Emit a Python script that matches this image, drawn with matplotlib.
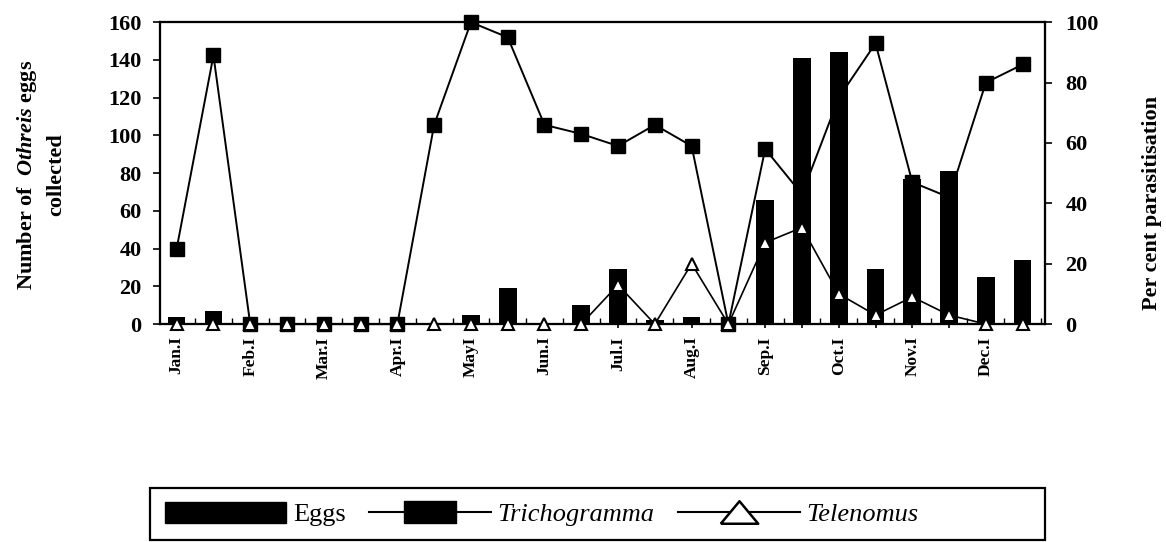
#!/usr/bin/env python3

import numpy as np
import matplotlib
matplotlib.use('Agg')
import matplotlib.pyplot as plt
from matplotlib.patches import Rectangle
from matplotlib.lines import Line2D

# half-month sampling periods
periods = ['Jan.I', '', 'Feb.I', '', 'Mar.I', '', 'Apr.I', '', 'MayI', '',
           'Jun.I', '', 'Jul.I', '', 'Aug.I', '', 'Sep.I', '', 'Oct.I', '',
           'Nov.I', '', 'Dec.I', '']

# Othreis eggs collected (left axis)
eggs = [4, 7, 0, 0, 0, 0, 0, 0, 5, 19, 0, 10, 29, 2, 4, 0,
        66, 141, 144, 29, 77, 81, 25, 34]

# per cent parasitisation (right axis)
trichogramma = [25, 89, 0, 0, 0, 0, 0, 66, 100, 95, 66, 63, 59, 66, 59, 0,
                58, 43, 75, 93, 47, 42, 80, 86]
telenomus = [0, 0, 0, 0, 0, 0, 0, 0, 0, 0, 0, 0, 13, 0, 20, 0,
             27, 32, 10, 3, 9, 3, 0, 0]

plt.rcParams['font.family'] = 'Liberation Serif'
plt.rcParams['mathtext.fontset'] = 'custom'
plt.rcParams['mathtext.rm'] = 'Liberation Serif:weight=bold'
plt.rcParams['mathtext.it'] = 'Liberation Serif:style=italic:weight=bold'

x = np.arange(len(periods))

fig = plt.figure(figsize=(11.66, 5.42), dpi=100)
ax = fig.add_axes([0.137, 0.402, 0.759, 0.557])
ax_tri = ax.twinx()
ax_tel = ax.twinx()

# layering: Trichogramma line under the bars, Telenomus above
ax_tri.set_zorder(1)
ax.set_zorder(2)
ax_tel.set_zorder(3)
ax.patch.set_visible(False)
ax_tel.patch.set_visible(False)

ax.bar(x, eggs, width=0.48, color='black')
ax_tri.plot(x, trichogramma, color='black', lw=1.4, marker='s', ms=10,
            mfc='black', mec='black', clip_on=False)
ax_tel.plot(x, telenomus, color='black', lw=1.2, marker='^', ms=8,
            mfc='white', mec='black', mew=1.5, clip_on=False, zorder=5)

ax.set_xlim(-0.46, 23.6)
ax.set_ylim(0, 160)
ax_tri.set_ylim(0, 100)
ax_tel.set_ylim(0, 100)

ax.set_xticks(x)
ax.set_xticklabels(periods, rotation=90, fontsize=12.5, fontweight='bold')
ax.set_xticks(x + 0.5, minor=True)
ax.tick_params(axis='x', which='major', direction='inout', length=6, width=1.2, pad=6)
ax.tick_params(axis='x', which='minor', direction='in', length=4, width=1)

ax.set_yticks(np.arange(0, 161, 20))
ax.tick_params(axis='y', direction='out', length=5, width=1.2, labelsize=16, pad=8)
for t in ax.get_yticklabels():
    t.set_fontweight('bold')

ax_tri.set_yticks(np.arange(0, 101, 20))
ax_tri.tick_params(axis='y', direction='out', length=5, width=1.2, labelsize=16, pad=10)
for t in ax_tri.get_yticklabels():
    t.set_fontweight('bold')
ax_tel.tick_params(axis='y', right=False, labelright=False)

for a in (ax, ax_tri, ax_tel):
    for s in a.spines.values():
        s.set_linewidth(1.5)

# axis titles
fig.text(41 / 1166, 1 - 175 / 542, 'Number of  $\\mathit{Othreis}$ eggs\ncollected',
         rotation=90, ha='center', va='center', fontsize=16, fontweight='bold',
         linespacing=1.5, multialignment='center')
fig.text(1152 / 1166, 1 - 203 / 542, 'Per cent parasitisation', rotation=90,
         ha='center', va='center', fontsize=16, fontweight='bold')

# legend box along the bottom
box = Rectangle((150 / 1166, 2 / 542), 895 / 1166, 52 / 542, transform=fig.transFigure,
                fill=False, edgecolor='black', lw=1.6)
fig.patches.append(box)

rect_marker = [(-2.3, -1), (2.3, -1), (2.3, 1), (-2.3, 1), (-2.3, -1)]
tri_marker = [(-1, -0.6), (1, -0.6), (0, 0.6), (-1, -0.6)]
handles = [Rectangle((0, 0), 1, 1, color='black'),
           Line2D([], [], color='black', lw=1.5, marker=rect_marker, ms=38,
                  mfc='black', mec='black'),
           Line2D([], [], color='black', lw=1.5, marker=tri_marker, ms=27,
                  mfc='white', mec='black', mew=1.8)]
names = ['Eggs', 'Trichogramma', 'Telenomus']
leg = fig.legend(handles, names, loc='center left', bbox_to_anchor=(165 / 1166, 28 / 542),
                 ncol=3, frameon=False, fontsize=19, handlelength=4.6, handleheight=0.85,
                 handletextpad=0.25, columnspacing=0.9, borderaxespad=0, borderpad=0)
for t in leg.get_texts()[1:]:
    t.set_fontstyle('italic')

plt.savefig('out.png', dpi=100)
